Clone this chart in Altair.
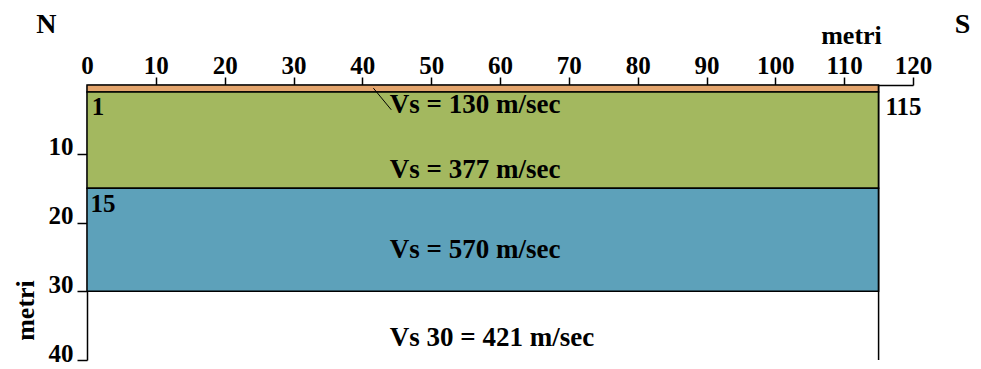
import altair as alt
import pandas as pd

# ---- data ----
layer_names = ["Strato superficiale", "Strato 1", "Strato 2"]
layer_x_start = [0, 0, 0]
layer_x_end = [115, 115, 115]
layer_top = [0, 1, 15]
layer_bottom = [1, 15, 30]
layer_colors = ["#E3A46C", "#A3B85F", "#5DA1BA"]

x_ticks = list(range(0, 121, 10))
y_ticks = [10, 20, 30, 40]

vs_texts = ["Vs = 130 m/sec", "Vs = 377 m/sec", "Vs = 570 m/sec", "Vs 30 = 421 m/sec"]
vs_x = [44.0, 44.0, 44.0, 44.0]
vs_depth = [4.1, 13.5, 25.2, 38.0]

depth_texts = ["1", "15", "115"]
depth_x = [0.7, 0.5, 116.0]
depth_depth = [4.35, 18.4, 4.35]

compass_texts = ["N", "S"]
compass_x = [-5.9, 127.2]
compass_depth = [-7.6, -7.6]

leader_x = [41.6]
leader_x2 = [44.2]
leader_d = [0.45]
leader_d2 = [3.6]

profile_end = [115]
profile_top = [0]
profile_bottom = [40]

FONT = "Liberation Serif"

layers_df = pd.DataFrame({
    "name": layer_names, "x": layer_x_start, "x2": layer_x_end,
    "d": layer_top, "d2": layer_bottom, "color": layer_colors,
})
vs_df = pd.DataFrame({"t": vs_texts, "x": vs_x, "d": vs_depth})
depth_df = pd.DataFrame({"t": depth_texts, "x": depth_x, "d": depth_depth})
comp_df = pd.DataFrame({"t": compass_texts, "x": compass_x, "d": compass_depth})
leader_df = pd.DataFrame({"x": leader_x, "x2": leader_x2, "d": leader_d, "d2": leader_d2})
rule_df = pd.DataFrame({"x": profile_end, "d": profile_top, "d2": profile_bottom})

xs = alt.Scale(domain=[0, 120], nice=False, zero=False)
ys = alt.Scale(domain=[0, 40], reverse=True, nice=False, zero=False)

x_axis = alt.Axis(
    orient="top", values=x_ticks, grid=False, title="metri",
    tickSize=8, labelPadding=4, labelBaseline="alphabetic",
    labelFontSize=25, labelFont=FONT, labelFontWeight="bold",
    titleFont=FONT, titleFontSize=26, titleFontWeight="bold",
    titleX=764, titleY=-42, titleAlign="center", titleBaseline="alphabetic",
    domainColor="black", domainWidth=1.5, tickWidth=1.5,
    tickColor={"condition": {"test": "datum.value == 0", "value": "transparent"}, "value": "black"},
    labelColor="black", titleColor="black", labelFlush=False, labelOverlap=False,
)
y_axis = alt.Axis(
    orient="left", values=y_ticks, grid=False, title="metri",
    tickSize=10, labelPadding=4, labelBaseline="alphabetic", labelOffset=1,
    labelFontSize=25, labelFont=FONT, labelFontWeight="bold",
    titleFont=FONT, titleFontSize=26, titleFontWeight="bold",
    titleX=-62, titleY=225, titleAngle=-90, titleAlign="center", titleBaseline="middle",
    domainColor="black", domainWidth=1.5, tickColor="black", tickWidth=1.5,
    labelColor="black", titleColor="black", labelFlush=False, labelOverlap=False,
)

X = alt.X("x:Q", scale=xs, axis=x_axis)
Y = alt.Y("d:Q", scale=ys, axis=y_axis)

rects = alt.Chart(layers_df).mark_rect(stroke="black", strokeWidth=1.5).encode(
    x=X, x2="x2:Q", y=Y, y2="d2:Q",
    fill=alt.Fill("color:N", scale=None),
)

rule = alt.Chart(rule_df).mark_rule(color="black", strokeWidth=1.5).encode(
    x=X, y=Y, y2="d2:Q",
)

leader = alt.Chart(leader_df).mark_rule(color="black", strokeWidth=1).encode(
    x=X, x2="x2:Q", y=Y, y2="d2:Q",
)

vs_text = alt.Chart(vs_df).mark_text(
    align="left", baseline="alphabetic", font=FONT, fontSize=27, fontWeight="bold", color="black"
).encode(x=X, y=Y, text="t:N")

depth_text = alt.Chart(depth_df).mark_text(
    align="left", baseline="alphabetic", font=FONT, fontSize=25, fontWeight="bold", color="black"
).encode(x=X, y=Y, text="t:N")

comp_text = alt.Chart(comp_df).mark_text(
    align="center", baseline="alphabetic", font=FONT, fontSize=28, fontWeight="bold", color="black"
).encode(x=X, y=Y, text="t:N")

chart = alt.layer(rects, rule, leader, vs_text, depth_text, comp_text).properties(
    width=826, height=275,
    autosize=alt.AutoSizeParams(type="none"),
    padding={"left": 79, "top": 77, "right": 60, "bottom": 6},
    background="white",
).configure_view(stroke=None)

chart.save("out.html", embed_options={"renderer": "svg", "actions": False})
